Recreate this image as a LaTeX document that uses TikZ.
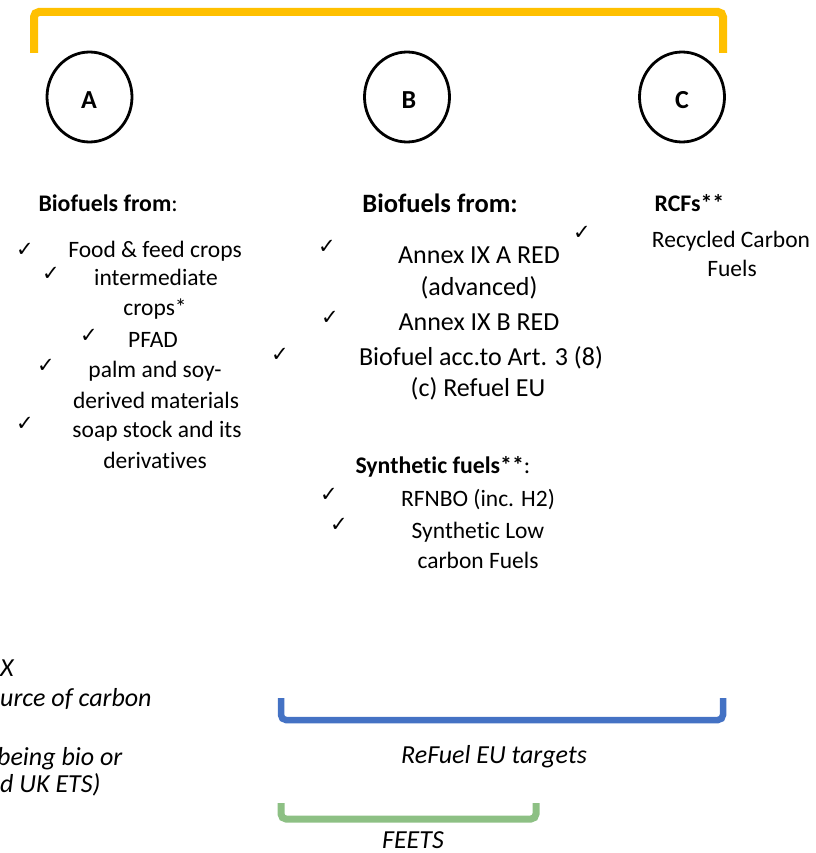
\documentclass[tikz,border=0pt]{standalone}
\usepackage{fontspec}
\usetikzlibrary{shapes.geometric}
\setmainfont{Carlito}[Ligatures=NoCommon]
\newfontfamily\symfont{DejaVu Sans}
\definecolor{ybr}{HTML}{FFC000}
\definecolor{bbr}{HTML}{4472C4}
\definecolor{gbr}{HTML}{8DC084}
\begin{document}
\begin{tikzpicture}[x=1pt,y=-1pt,
  circ/.style={draw=black,line width=2.8pt,ellipse,minimum width=85pt,minimum height=90pt,inner sep=0pt},
  letter/.style={font=\fontsize{26}{28}\selectfont\bfseries},
  ta/.style={anchor=base,font=\fontsize{23.5}{28}\selectfont},
  tb/.style={anchor=base,font=\fontsize{26}{31}\selectfont},
  hd/.style={anchor=base west,font=\fontsize{23.8}{28}\selectfont},
  hdb/.style={anchor=base,font=\fontsize{26.5}{31}\selectfont\bfseries},
  note/.style={anchor=base west,font=\fontsize{26}{31}\selectfont\itshape},
  lbl/.style={anchor=base,font=\fontsize{26}{31}\selectfont\itshape},
  chk/.style={font=\fontsize{21}{24}\symfont,inner sep=0pt},
  brk/.style={line width=#1,rounded corners=5pt}
]
\useasboundingbox (0,0) rectangle (815,853);
\clip (0,0) rectangle (815,853);
% top bracket
\coordinate (y1) at (34,53); \coordinate (y2) at (34,12);
\coordinate (y3) at (723,12); \coordinate (y4) at (723,53);
\draw[brk=8pt,ybr] (y1) -- (y2) -- (y3) -- (y4);
% circles
\node[circ] (cA) at (89.5,97) {};
\node[circ] (cB) at (407,97) {};
\node[circ] (cC) at (682,97) {};
\node[letter] (lA) at (89,100) {A};
\node[letter] (lB) at (409,100) {B};
\node[letter] (lC) at (682,100) {C};
% column A
\node[hd] (hA) at (35,211) {\textbf{Biofuels from}:};
\node[ta] (a1) at (155,257) {Food \& feed crops};
\node[ta] (a2) at (156,285) {intermediate};
\node[ta] (a3) at (155,315) {crops*};
\node[ta] (a4) at (153,347) {PFAD};
\node[ta] (a5) at (155,377) {palm and soy-};
\node[ta] (a6) at (156,408) {derived materials};
\node[ta] (a7) at (157,437) {soap stock and its};
\node[ta] (a8) at (155,468) {derivatives};
\node[chk] (ka1) at (25,250) {✓};
\node[chk] (ka2) at (51,274) {✓};
\node[chk] (ka3) at (89,336) {✓};
\node[chk] (ka4) at (46,366) {✓};
\node[chk] (ka5) at (25,424) {✓};
% column B
\node[hdb] (hB) at (440,212) {Biofuels from:};
\node[tb] (b1) at (479,263) {Annex IX A RED};
\node[tb] (b2) at (479,295) {(advanced)};
\node[tb] (b3) at (479,330) {Annex IX B RED};
\node[tb] (b4) at (481,365) {Biofuel acc.to Art. 3 (8)};
\node[tb] (b5) at (478,396) {(c) Refuel EU};
\node[chk] (kb0) at (582,233) {✓};
\node[chk] (kb1) at (327,247) {✓};
\node[chk] (kb2) at (330,318) {✓};
\node[chk] (kb3) at (280,355) {✓};
% synthetic
\node[hd] (hS) at (352,473) {\textbf{Synthetic fuels**}:};
\node[ta] (s1) at (478,506) {RFNBO (inc. H2)};
\node[ta] (s2) at (478,538) {Synthetic Low};
\node[ta] (s3) at (478,568) {carbon Fuels};
\node[chk] (ks1) at (329,495) {✓};
\node[chk] (ks2) at (339,525) {✓};
% column C
\node[hd] (hC) at (651,211) {\textbf{RCFs**}};
\node[ta] (c1) at (731,247) {Recycled Carbon};
\node[ta] (c2) at (732,276) {Fuels};
% bottom-left notes (clipped)
\node[note,inner sep=0pt] (n1) at (0,676) {X};
\node[note,inner sep=0pt] (n2) at (0,706) {urce of carbon};
\node[note,inner sep=0pt] (n3) at (-3,765) {being bio or};
\node[note,inner sep=0pt] (n4) at (0,792) {d UK ETS)};
% blue bracket
\coordinate (u1) at (281,698); \coordinate (u2) at (281,720);
\coordinate (u3) at (723,720); \coordinate (u4) at (723,698);
\draw[brk=6.5pt,bbr] (u1) -- (u2) -- (u3) -- (u4);
\node[lbl] (rt) at (494,763) {ReFuel EU targets};
% green bracket
\coordinate (g1) at (281,803); \coordinate (g2) at (281,819);
\coordinate (g3) at (536,819); \coordinate (g4) at (536,803);
\draw[brk=7pt,gbr] (g1) -- (g2) -- (g3) -- (g4);
\node[lbl] (fe) at (413,848) {FEETS};
\end{tikzpicture}
\end{document}
